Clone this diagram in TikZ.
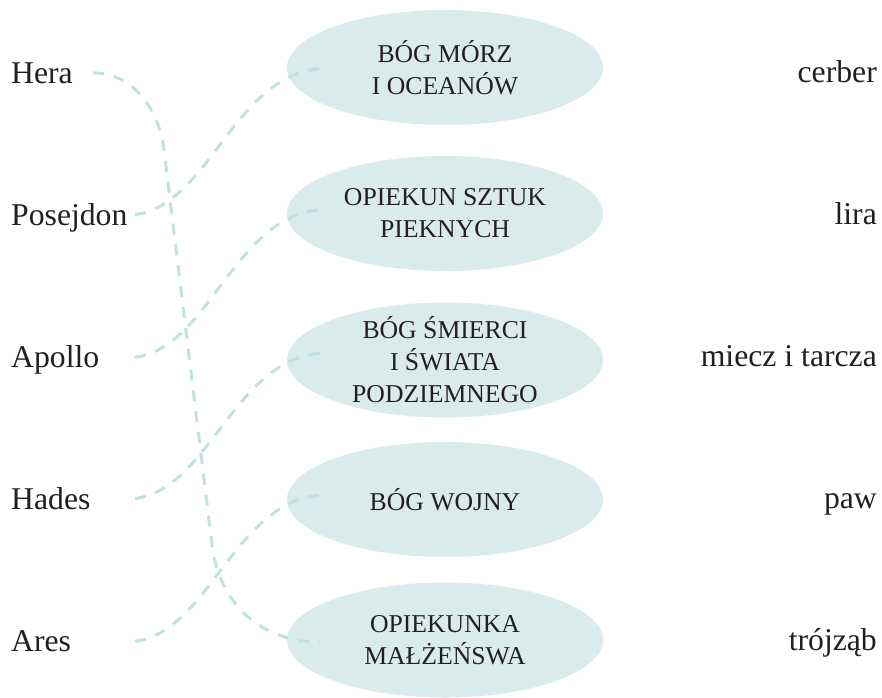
\documentclass[tikz,border=0pt]{standalone}
\usepackage{fontspec}
\setmainfont{Liberation Serif}
\usetikzlibrary{shapes.geometric,calc}
\definecolor{ellfill}{RGB}{217,236,235}
\definecolor{dashcol}{RGB}{192,226,224}
\definecolor{txt}{RGB}{35,31,32}
\begin{document}
\begin{tikzpicture}[x=1pt,y=-1pt,
  ell/.style={ellipse, fill=ellfill, draw=none, minimum width=316pt, minimum height=115pt, inner sep=0pt},
  etext/.style={align=center, font=\fontsize{25.7}{32}\selectfont, inner sep=0pt, text=txt},
  lab/.style={font=\fontsize{31.7}{38}\selectfont, inner sep=0pt, text=txt, text height=21pt, text depth=0pt},
  conn/.style={draw=dashcol, line width=3pt, dash pattern=on 11pt off 10pt}]
\useasboundingbox (0,0) rectangle (882,697);

% ellipses
\node[ell] (e1) at (445,67.5) {};
\node[ell] (e2) at (445,213.5) {};
\node[ell] (e3) at (445,360) {};
\node[ell] (e4) at (445,499.5) {};
\node[ell] (e5) at (445,640) {};

% left labels
\node[lab, anchor=base west] (hera) at (11,83.3) {Hera};
\node[lab, anchor=base west] (posejdon) at (11,225) {Posejdon};
\node[lab, anchor=base west] (apollo) at (11,367.7) {Apollo};
\node[lab, anchor=base west] (hades) at (11,509) {Hades};
\node[lab, anchor=base west] (ares) at (11,651.7) {Ares};

% right labels
\node[lab, anchor=base east] (cerber) at (877,82.7) {cerber};
\node[lab, anchor=base east] (lira) at (877,224.3) {lira};
\node[lab, anchor=base east] (miecz) at (877,366.7) {miecz i tarcza};
\node[lab, anchor=base east] (paw) at (877,508) {paw};
\node[lab, anchor=base east] (trojzab) at (877,650) {trójząb};

% connector end points
\coordinate (sx) at (135,0);
\coordinate (i1) at ($(e1.center)+(-120,1)$);
\coordinate (i2) at ($(e2.center)+(-120,-4)$);
\coordinate (i3) at ($(e3.center)+(-120,-7)$);
\coordinate (i4) at ($(e4.center)+(-120,-4.5)$);
\coordinate (i5) at ($(e5.center)+(-125,2)$);

% connectors
\draw[conn] ($(hera.east)+(20,0)$) .. controls (135,73) and (159.4,112) .. (164,150)
   -- (212,545) .. controls (219.3,605) and (262,642) .. (i5);
\draw[conn] (sx |- posejdon.east) .. controls +(75,-9) and +(-90,2) .. (i1);
\draw[conn] (sx |- apollo.east) .. controls +(75,-9) and +(-90,2) .. (i2);
\draw[conn] (sx |- hades.east) .. controls +(75,-9) and +(-90,2) .. (i3);
\draw[conn] (sx |- ares.east) .. controls +(75,-9) and +(-90,2) .. (i4);

% ellipse texts
\node[etext] (t1) at (e1.center) {BÓG MÓRZ\\I OCEANÓW};
\node[etext] (t2) at (e2.center) {OPIEKUN SZTUK\\PIEKNYCH};
\node[etext] (t3) at (e3.center) {BÓG ŚMIERCI\\I ŚWIATA\\PODZIEMNEGO};
\node[etext] (t4) at (e4.center) {BÓG WOJNY};
\node[etext] (t5) at (e5.center) {OPIEKUNKA\\MAŁŻEŃSWA};
\end{tikzpicture}
\end{document}
